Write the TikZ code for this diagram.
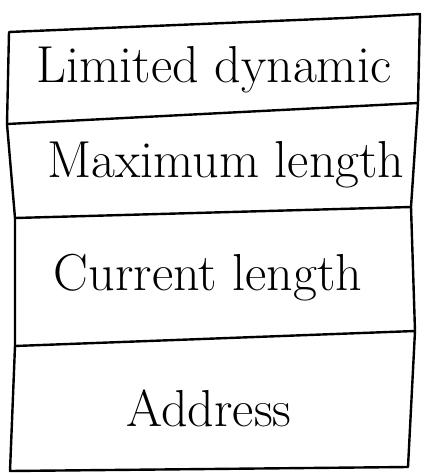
\documentclass[tikz,border=0pt]{standalone}
\usepackage{tikz}
\usetikzlibrary{positioning, calc}

\begin{document}
\begin{tikzpicture}[x=1pt,y=-1pt,line width=2.4pt,line cap=round,line join=round,
    campo/.style={font=\fontsize{52}{56}\selectfont,inner sep=0pt}]
        \useasboundingbox (0,0) rectangle (425,474);
        %angoli
        \coordinate (tl) at (9,32);
        \coordinate (tr) at (420,14);
        \coordinate (bl) at (10,471);
        \coordinate (br) at (408,467);
        %bordo esterno
        \draw (tl) -- (345,18) -- (tr) -- (418,103) -- (411,207) -- (415,331) -- (br) -- (bl) -- (15,346) -- (15,218) -- (7,124) -- cycle;
        %divisori
        \draw (7,124) -- (418,103);
        \draw (15,218) -- (411,207);
        \draw (15,346) -- (415,331);
        %campi
        \node[campo] (lim) at (214,70) {Limited dynamic};
        \node[campo] (maxlen) at (226,165) {Maximum length};
        \node[campo] (curlen) at (208,278) {Current length};
        \node[campo] (addr) at (209,408) {Address};
\end{tikzpicture}
\end{document}
